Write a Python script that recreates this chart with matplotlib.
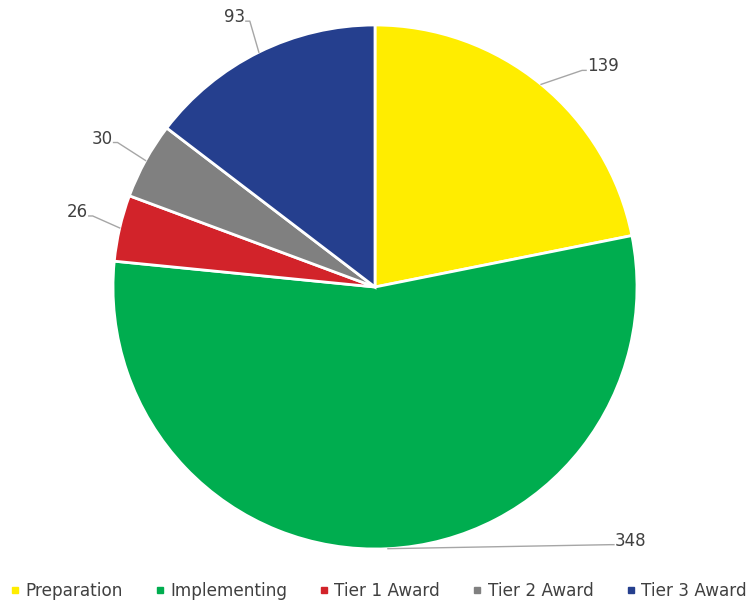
import numpy as np
import matplotlib
matplotlib.use("Agg")
import matplotlib.pyplot as plt
from matplotlib.lines import Line2D

categories = ["Preparation", "Implementing", "Tier 1 Award", "Tier 2 Award", "Tier 3 Award"]
counts = [139, 348, 26, 30, 93]
colors = ["#FFED00", "#00AD4F", "#D2232A", "#808080", "#253F8E"]

# elbow offsets (px) for the leader lines, and which side the label sits on
elbow_offsets = [(41, 14), (222, 4), (-27, 12), (-28, 18), (-9, 31)]
label_sides = ["right", "right", "left", "left", "left"]

W, H = 749, 604
plt.rcParams["font.family"] = ["DejaVu Sans"]
fig = plt.figure(figsize=(W / 100, H / 100), dpi=100)
ax = fig.add_axes([0, 0, 1, 1])

cx, cy, r = 375, H - 287, 262
wedges, _ = ax.pie(counts, colors=colors, startangle=90, counterclock=False,
                   center=(cx, cy), radius=r,
                   wedgeprops=dict(edgecolor="white", linewidth=2))
ax.set_xlim(0, W)
ax.set_ylim(0, H)
ax.set_aspect("equal")
ax.axis("off")

# value labels with elbow leader lines
for w, val, (dx, dy), side in zip(wedges, counts, elbow_offsets, label_sides):
    mid = np.deg2rad((w.theta1 + w.theta2) / 2)
    x0, y0 = cx + r * np.cos(mid), cy + r * np.sin(mid)
    x1, y1 = x0 + dx, y0 + dy
    tail = 4 if side == "right" else -4
    ax.plot([x0, x1, x1 + tail], [y0, y1, y1], color="#A6A6A6", lw=1, zorder=3)
    ax.text(x1 + tail + (1 if side == "right" else -1), y1 - 1, str(val),
            ha="left" if side == "right" else "right", va="baseline",
            fontsize=12, color="#404040")

handles = [Line2D([], [], marker="s", linestyle="none", markersize=4.5,
                  markerfacecolor=c, markeredgecolor=c) for c in colors]
fig.legend(handles, categories, loc="center left", bbox_to_anchor=(11.5 / W, 1 - 591 / H),
           ncol=5, frameon=False, fontsize=12.2, labelcolor="#404040",
           handlelength=0.4, handletextpad=0.4, columnspacing=2.0,
           borderaxespad=0, borderpad=0)

fig.savefig("out.png", dpi=100)
